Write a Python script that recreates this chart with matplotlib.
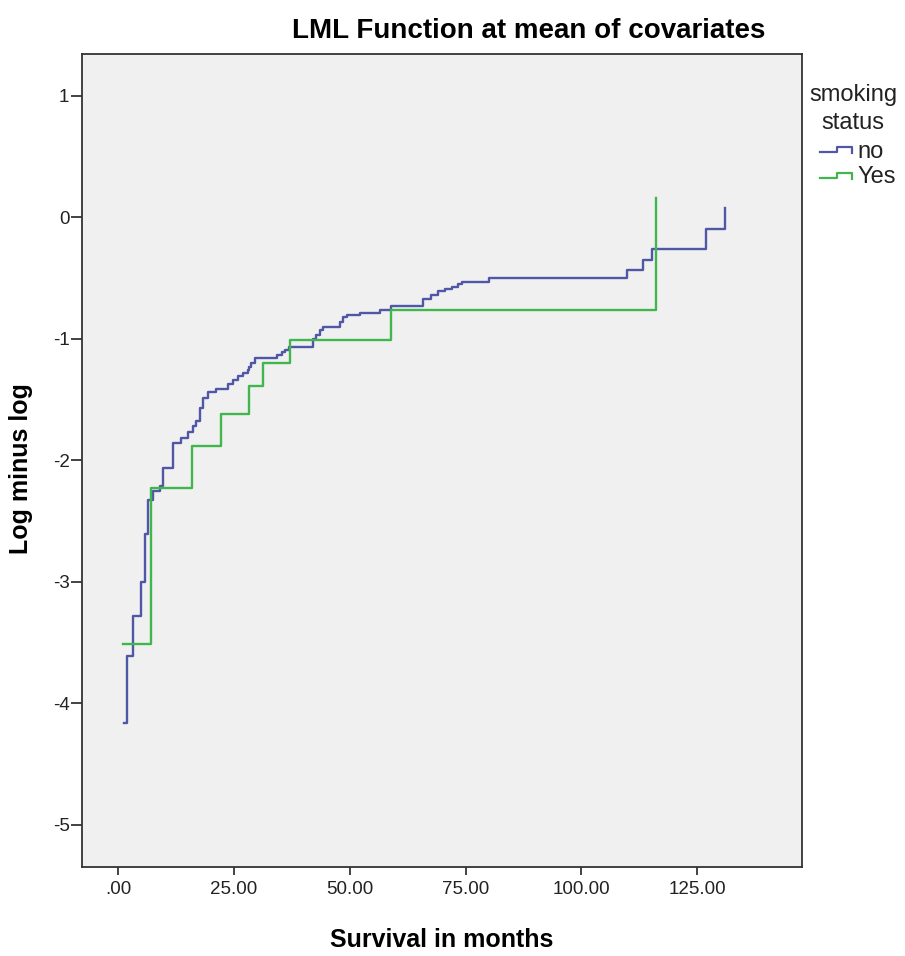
import matplotlib
matplotlib.use("Agg")
import matplotlib.pyplot as plt
from matplotlib import font_manager
from matplotlib.lines import Line2D
from matplotlib.ticker import FuncFormatter

plt.rcParams["font.family"] = ["Liberation Sans", "DejaVu Sans"]
plt.rcParams["axes.unicode_minus"] = False

# SPSS draws ticks and legend in a condensed face
try:
    font_manager.findfont("Liberation Sans Narrow", fallback_to_default=False)
    narrow = ["Liberation Sans Narrow", "Liberation Sans"]
    small_size = 16
except ValueError:
    narrow = ["Liberation Sans"]
    small_size = 13.5

# LML values (step curves)
months_no = [1.2, 2.0, 3.2, 5.0, 5.7, 6.4, 7.5, 9.0, 9.7, 11.8,
             13.6, 15.1, 16.2, 16.9, 17.6, 18.3, 19.4, 21.2, 23.7, 24.8,
             25.9, 27.0, 28.0, 28.3, 28.7, 29.5, 34.2, 35.4, 36.1, 36.8,
             42.1, 42.8, 43.5, 44.3, 47.9, 48.6, 49.3, 52.2, 56.5, 59.0,
             65.9, 67.5, 69.0, 70.5, 72.0, 73.4, 74.2, 80.1, 109.9, 113.3,
             115.2, 126.9, 131.0]
lml_no = [-4.16, -3.61, -3.28, -3.00, -2.61, -2.33, -2.25, -2.21, -2.06, -1.86,
          -1.82, -1.77, -1.72, -1.68, -1.57, -1.49, -1.44, -1.41, -1.37, -1.34,
          -1.31, -1.28, -1.26, -1.23, -1.20, -1.16, -1.13, -1.11, -1.09, -1.07,
          -1.00, -0.97, -0.93, -0.90, -0.86, -0.82, -0.80, -0.79, -0.76, -0.73,
          -0.67, -0.64, -0.61, -0.59, -0.57, -0.55, -0.53, -0.50, -0.43, -0.35,
          -0.26, -0.10, 0.08]

months_yes = [1.0, 7.0, 16.0, 22.1, 28.2, 31.2, 37.1, 59.0, 116.0]
lml_yes = [-3.51, -2.23, -1.88, -1.62, -1.39, -1.20, -1.01, -0.76, 0.16]

group_labels = ["no", "Yes"]
x_ticks = [0, 25, 50, 75, 100, 125]
y_ticks = [-5, -4, -3, -2, -1, 0, 1]

blue = "#5057a6"
green = "#40b64c"

W, H = 905, 956
fig = plt.figure(figsize=(W / 100, H / 100), dpi=100)
fig.patch.set_facecolor("white")

# plot area in pixels: left 82, right 802, top 54, bottom 867
ax = fig.add_axes([82 / W, 1 - 867 / H, (802 - 82) / W, (867 - 54) / H])
ax.set_facecolor("#f0f0f0")

ax.step(months_no, lml_no, where="post", color=blue, lw=1.7)
ax.step(months_yes, lml_yes, where="post", color=green, lw=1.7)

ax.set_xlim(-7.8, 147.6)
ax.set_ylim(-5.347, 1.344)

ax.set_xticks(x_ticks)
ax.xaxis.set_major_formatter(FuncFormatter(lambda v, p: ("%.2f" % v).lstrip("0")))
ax.set_yticks(y_ticks)
ax.yaxis.set_major_formatter(FuncFormatter(lambda v, p: "%d" % v))

ax.tick_params(axis="x", length=6, width=1.2, pad=4, labelsize=small_size, colors="#222222")
ax.tick_params(axis="y", length=8, width=1.2, pad=1, labelsize=small_size, colors="#222222")
for lab in ax.get_xticklabels() + ax.get_yticklabels():
    lab.set_family(narrow)
for s in ax.spines.values():
    s.set_color("#333333")
    s.set_linewidth(1.3)

# title and axis titles
fig.text(529 / W, 1 - 38 / H, "LML Function at mean of covariates",
         ha="center", va="baseline", fontsize=20, weight="bold")
fig.text(442 / W, 1 - 940 / H, "Survival in months",
         ha="center", va="center", fontsize=18, weight="bold")
fig.text(21 / W, 1 - 469 / H, "Log minus log", rotation=90,
         ha="center", va="center", fontsize=18, weight="bold")

# legend (drawn by hand to get the step icons)
fig.text(853 / W, 1 - 109 / H, "smoking\nstatus", ha="center", va="center",
         fontsize=17, linespacing=1.3, color="#222222", family=narrow)


def legend_icon(y, color):
    xs = [820, 837, 837, 852, 852]
    ys = [y + 2, y + 2, y - 3, y - 3, y + 3]
    fig.add_artist(Line2D([x / W for x in xs], [1 - v / H for v in ys],
                          transform=fig.transFigure, color=color, lw=1.6))


legend_icon(150, blue)
legend_icon(176, green)
fig.text(857 / W, 1 - 152 / H, group_labels[0], ha="left", va="center",
         fontsize=17, color="#222222", family=narrow)
fig.text(857 / W, 1 - 177 / H, group_labels[1], ha="left", va="center",
         fontsize=17, color="#222222", family=narrow)

plt.savefig("out.png", dpi=100, facecolor="white")
